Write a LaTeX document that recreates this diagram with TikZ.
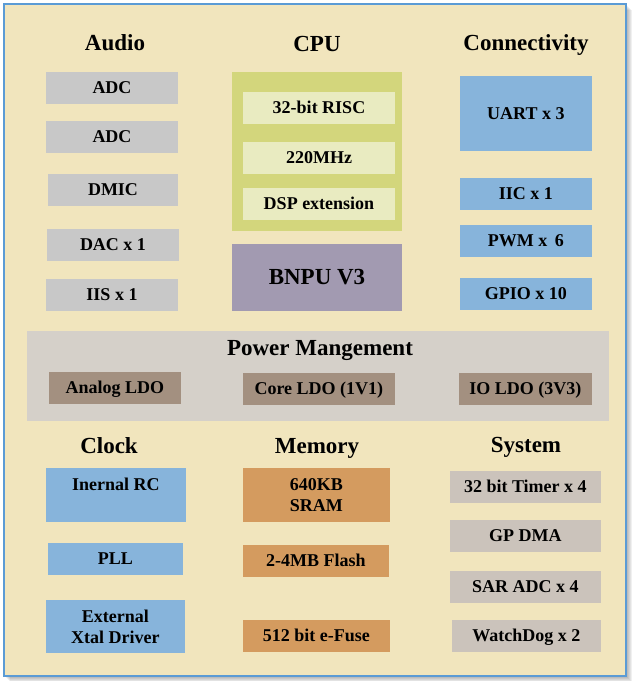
\documentclass[tikz,border=0pt]{standalone}
\usepackage{fontspec}
\setmainfont{Liberation Serif}
\usetikzlibrary{positioning}
\definecolor{bgbeige}{HTML}{F1E5BD}
\definecolor{framblue}{HTML}{5B9BD5}
\definecolor{audiogray}{HTML}{C8C8C8}
\definecolor{cpugreen}{HTML}{D3D67C}
\definecolor{cpulight}{HTML}{E9EBC1}
\definecolor{npuviolet}{HTML}{A29AB1}
\definecolor{ioblue}{HTML}{87B4DB}
\definecolor{pwrgray}{HTML}{D5D0C9}
\definecolor{ldobrown}{HTML}{A39080}
\definecolor{memorange}{HTML}{D49B5F}
\definecolor{sysgray}{HTML}{CBC3BB}

\begin{document}
\begin{tikzpicture}[x=1pt,y=-1pt,
            cell/.style = {rectangle, inner sep=0pt, text=black,
              font=\fontsize{18}{21}\selectfont\bfseries},
            one/.style = {cell, text height=15.5pt, text depth=3.6pt},
            head/.style = {anchor=base, inner sep=0pt,
              font=\fontsize{23}{26}\selectfont\bfseries},
            aud/.style = {one, fill=audiogray},
            cpu/.style = {one, fill=cpulight},
            con/.style = {one, fill=ioblue},
            ldo/.style = {one, fill=ldobrown},
            mem/.style = {one, fill=memorange},
            sys/.style = {one, fill=sysgray}]
            \useasboundingbox (0,0) rectangle (633,681);
            % shadow and frame
            \foreach \d in {1,...,6}
              \fill[black, opacity=0.06] (4+\d,4+\d) rectangle (626+\d,676+\d);
            \fill[bgbeige] (4,4) rectangle (626,676);
            \draw[framblue, line width=1.3pt] (4,4) rectangle (626,676);
            % Audio
            \node[head] (haudio) at (115,50) {Audio};
            \node[aud, minimum width=132, minimum height=32] (adcA) at (112,88) {ADC};
            \node[aud, minimum width=132, minimum height=32] (adcB) at (112,137) {ADC};
            \node[aud, minimum width=130, minimum height=32] (dmic) at (113,190) {DMIC};
            \node[aud, minimum width=132, minimum height=32] (dac) at (113,245) {DAC x 1};
            \node[aud, minimum width=132, minimum height=32] (iis) at (112,295) {IIS x 1};
            % CPU
            \node[head] (hcpu) at (317,51) {CPU};
            \node[cell, fill=cpugreen, minimum width=169.7, minimum height=159] (cpubox) at (316.85,151.5) {};
            \node[cpu, minimum width=152, minimum height=32] (risc) at (319,108) {32-bit RISC};
            \node[cpu, minimum width=152, minimum height=32] (clk) at (319,158) {220MHz};
            \node[cpu, minimum width=152, minimum height=32] (dsp) at (319,204) {DSP extension};
            \node[cell, fill=npuviolet, minimum width=170, minimum height=67,
              font=\fontsize{23}{26}\selectfont\bfseries] (bnpu) at (317,277.5) {BNPU V3};
            % Connectivity
            \node[head] (hcon) at (526,50) {Connectivity};
            \node[con, minimum width=131.7, minimum height=75] (uart) at (525.85,113.5) {UART x 3};
            \node[con, minimum width=131.7, minimum height=32] (iic) at (525.85,194) {IIC x 1};
            \node[con, minimum width=131.7, minimum height=32] (pwm) at (525.85,241) {PWM x\, 6};
            \node[con, minimum width=131.7, minimum height=32] (gpio) at (525.85,294) {GPIO x 10};
            % Power Mangement
            \node[cell, fill=pwrgray, minimum width=581.7, minimum height=89.7] (pwr) at (317.85,375.85) {};
            \node[head] (hpwr) at (320,355) {Power Mangement};
            \node[ldo, minimum width=131.7, minimum height=31.7] (aldo) at (114.85,387.85) {Analog LDO};
            \node[ldo, minimum width=151.7, minimum height=31.7] (cldo) at (318.85,388.85) {Core LDO (1V1)};
            \node[ldo, minimum width=132.7, minimum height=31.7] (ioldo) at (525.35,388.85) {IO LDO (3V3)};
            % Clock
            \node[head] (hclk) at (109,453) {Clock};
            \node[cell, fill=ioblue, minimum width=139.7, text height=22pt, text depth=31.7pt] (rc) at (115.85,494.85) {Inernal RC};
            \node[con, minimum width=134.7, minimum height=31.7] (pll) at (115.35,558.85) {PLL};
            \node[cell, fill=ioblue, align=center, minimum width=138.7, minimum height=52.7] (xtal) at (115.35,626.35) {External\\Xtal Driver};
            % Memory
            \node[head] (hmem) at (317,453) {Memory};
            \node[cell, fill=memorange, align=center, minimum width=146.7, minimum height=53.7] (sram) at (316.35,494.85) {640KB\\SRAM};
            \node[mem, minimum width=145.7, minimum height=31.7] (flash) at (315.85,560.85) {2-4MB Flash};
            \node[mem, minimum width=146.7, minimum height=31.7] (efuse) at (316.35,635.85) {512 bit e-Fuse};
            % System
            \node[head] (hsys) at (526,452) {System};
            \node[sys, minimum width=150.7, minimum height=31.7] (timer) at (525.35,486.85) {32 bit Timer x 4};
            \node[sys, minimum width=150.7, minimum height=31.7] (dma) at (525.35,535.85) {GP DMA};
            \node[sys, minimum width=150.7, minimum height=31.7] (sadc) at (525.35,586.85) {SAR ADC x 4};
            \node[sys, minimum width=148.7, minimum height=31.7] (wdog) at (526.35,635.85) {WatchDog x 2};
\end{tikzpicture}
\end{document}
